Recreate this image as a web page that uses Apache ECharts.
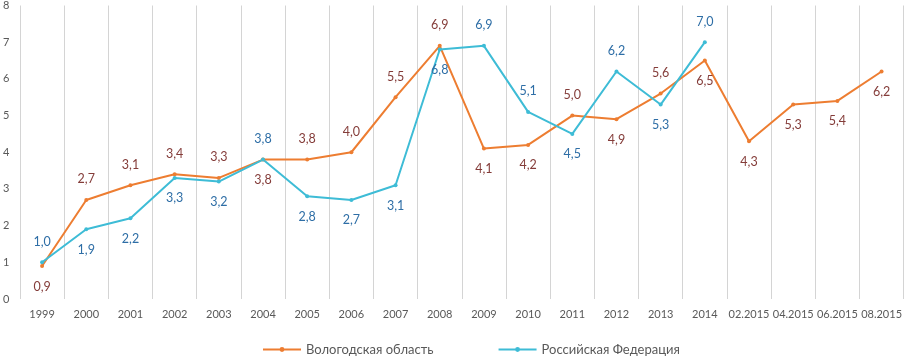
<!DOCTYPE html>
<html>
<head>
<meta charset="utf-8">
<script src="https://cdn.jsdelivr.net/npm/echarts@6/dist/echarts.min.js"></script>
<style>
  html, body { margin: 0; padding: 0; background: #fff; }
  #chart { width: 905px; height: 358px; }
</style>
</head>
<body>
<div id="chart"></div>
<script>
const categories = ['1999', '2000', '2001', '2002', '2003', '2004', '2005', '2006', '2007', '2008',
  '2009', '2010', '2011', '2012', '2013', '2014', '02.2015', '04.2015', '06.2015', '08.2015'];

const vologda = [0.9, 2.7, 3.1, 3.4, 3.3, 3.8, 3.8, 4.0, 5.5, 6.9,
  4.1, 4.2, 5.0, 4.9, 5.6, 6.5, 4.3, 5.3, 5.4, 6.2];
// where each label sits
const vologdaPos = ['bottom', 'top', 'top', 'top', 'top', 'bottom', 'top', 'top', 'top', 'top',
  'bottom', 'bottom', 'top', 'bottom', 'top', 'bottom', 'bottom', 'bottom', 'bottom', 'bottom'];

const russia = [1.0, 1.9, 2.2, 3.3, 3.2, 3.8, 2.8, 2.7, 3.1, 6.8,
  6.9, 5.1, 4.5, 6.2, 5.3, 7.0, null, null, null, null];
const russiaPos = ['top', 'bottom', 'bottom', 'bottom', 'bottom', 'top', 'bottom', 'bottom', 'bottom', 'bottom',
  'top', 'top', 'bottom', 'top', 'bottom', 'top'];

const FONT = 'Lato, "Open Sans", sans-serif';

function fmt(v) {
  return v.toFixed(1).replace('.', ',');
}

function withLabels(values, positions) {
  return values.map((v, i) => {
    if (v == null) return null;
    return {
      value: v,
      label: { position: positions[i] }
    };
  });
}

const myChart = echarts.init(document.getElementById('chart'));

const option = {
  animation: false,
  backgroundColor: '#fff',
  grid: { left: 20, right: 1, top: 5, bottom: 59 },
  legend: {
    bottom: -3,
    left: 257,
    itemGap: 64,
    itemWidth: 38,
    itemHeight: 6,
    textStyle: { color: '#595959', fontSize: 13, fontFamily: FONT },
    data: ['Вологодская область', 'Российская Федерация']
  },
  xAxis: {
    type: 'category',
    data: categories,
    boundaryGap: true,
    axisLine: { show: false },
    axisTick: { show: false },
    splitLine: { show: true, lineStyle: { color: '#d4d4d4', width: 1 } },
    axisLabel: { color: '#595959', fontSize: 11, fontFamily: FONT, margin: 10, interval: 0 }
  },
  yAxis: {
    type: 'value',
    min: 0,
    max: 8,
    interval: 1,
    axisLine: { show: false },
    axisTick: { show: false },
    splitLine: { show: false },
    axisLabel: { color: '#595959', fontSize: 11, fontFamily: FONT, align: 'left', margin: 17 }
  },
  series: [
    {
      name: 'Вологодская область',
      type: 'line',
      data: withLabels(vologda, vologdaPos),
      symbol: 'circle',
      symbolSize: 4,
      itemStyle: { color: '#ED7D31' },
      lineStyle: { color: '#ED7D31', width: 2 },
      label: {
        show: true,
        distance: 12,
        color: '#843C39',
        fontSize: 12.5,
        fontFamily: FONT,
        formatter: p => fmt(p.value)
      }
    },
    {
      name: 'Российская Федерация',
      type: 'line',
      data: withLabels(russia, russiaPos),
      symbol: 'circle',
      symbolSize: 4,
      itemStyle: { color: '#3EBCD6' },
      lineStyle: { color: '#3EBCD6', width: 2 },
      label: {
        show: true,
        distance: 12,
        color: '#2E6EA6',
        fontSize: 12.5,
        fontFamily: FONT,
        formatter: p => fmt(p.value)
      }
    }
  ]
};

myChart.setOption(option);
</script>
</body>
</html>
